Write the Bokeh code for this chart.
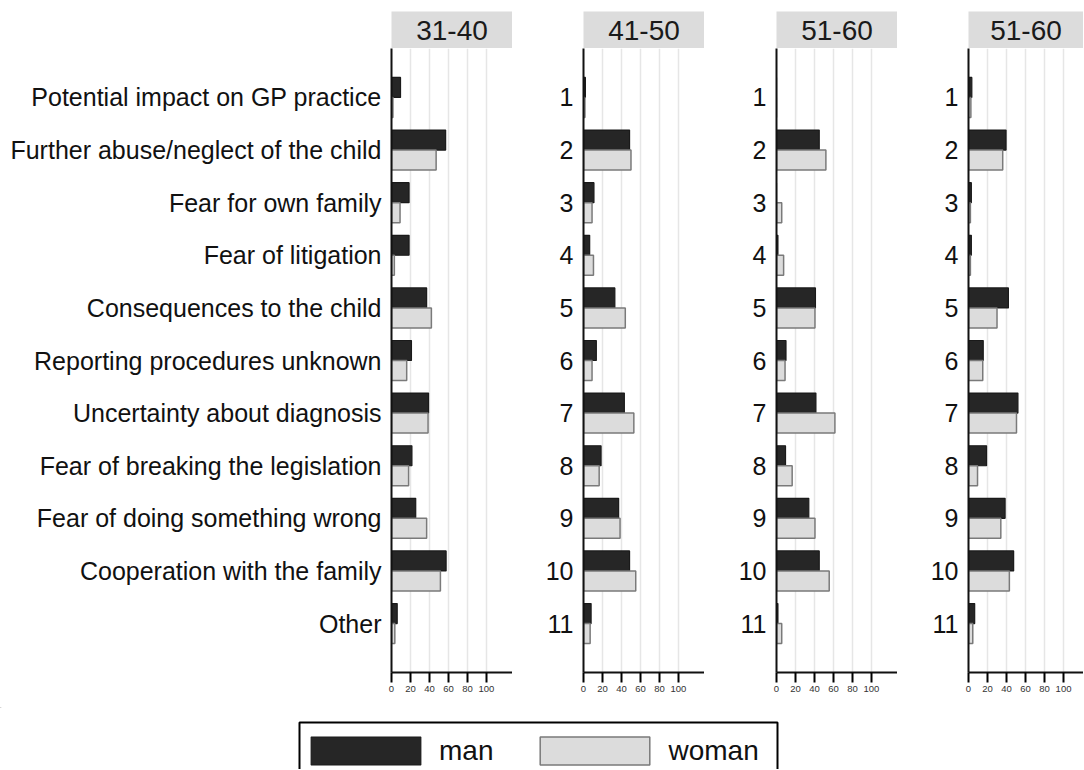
from bokeh.plotting import figure
from bokeh.models import (Range1d, FixedTicker, ColumnDataSource, Legend, LegendItem,
                          BoxAnnotation)
from bokeh.layouts import row, column
from bokeh.embed import file_html
from bokeh.resources import INLINE
from bokeh.core.properties import value
from bokeh.transform import dodge

categories = [
    "Potential impact on GP practice",
    "Further abuse/neglect of the child",
    "Fear for own family",
    "Fear of litigation",
    "Consequences to the child",
    "Reporting procedures unknown",
    "Uncertainty about diagnosis",
    "Fear of breaking the legislation",
    "Fear of doing something wrong",
    "Cooperation with the family",
    "Other",
]
cat_index = list(range(1, 12))
panel_titles = ["31-40", "41-50", "51-60", "51-60"]
x_ticks = [0, 20, 40, 60, 80, 100]

man_31_40 = [9.5, 57, 18.5, 18.5, 37, 21, 39, 21.5, 25.5, 57.5, 6]
woman_31_40 = [1.5, 47, 9, 3, 42, 16, 38.5, 18, 37, 51.5, 3.5]
man_41_50 = [2, 48.5, 11, 6.5, 33, 13.5, 43, 18.5, 37, 48.5, 8]
woman_41_50 = [1.5, 50, 9, 10.5, 44, 9, 53, 16.5, 38.5, 55, 7]
man_51_60 = [0, 45, 0, 1.5, 41, 10, 41.5, 9.5, 34, 45, 1.5]
woman_51_60 = [0, 52, 5.5, 7.5, 40.5, 9, 61.5, 16.5, 40.5, 55.5, 5.5]
man_51_60b = [3.5, 39.5, 3, 3, 42, 15.5, 52, 19, 38.5, 47.5, 6.5]
woman_51_60b = [2.5, 36, 2, 2, 30, 15, 50.5, 9.5, 34, 43, 4.5]

series_names = ["man", "woman"]

FONT = "Liberation Sans"
MAN_FILL, MAN_LINE = "#262626", "#1a1a1a"
WOMAN_FILL, WOMAN_LINE = "#dcdcdc", "#7a7a7a"

panels = [
    (man_31_40, woman_31_40, True, 121, 127.4, 391),
    (man_41_50, woman_41_50, False, 121, 127.4, 71),
    (man_51_60, woman_51_60, False, 121, 127.4, 72),
    (man_51_60b, woman_51_60b, False, 115, 121.0, 71),
]

headers = []
mains = []
for k, (man, woman, names, fw, xmax, bl) in enumerate(panels):
    # header strip
    h = figure(frame_width=fw, frame_height=37, x_range=Range1d(0, 1), y_range=Range1d(0, 1),
               x_axis_location=None, y_axis_location=None, output_backend="svg",
               toolbar_location=None, min_border_left=bl, min_border_right=0,
               min_border_top=11, min_border_bottom=0)
    h.background_fill_color = "#dcdcdc"
    h.outline_line_color = None
    h.grid.visible = False
    h.text(x=[0.5], y=[0.5], text=[panel_titles[k]], text_align="center",
           text_baseline="middle", text_font=value(FONT), text_font_size="28px",
           text_color="#1a1a1a")
    headers.append(h)

    src = ColumnDataSource(dict(cat=cat_index, man=man, woman=woman))
    p = figure(frame_width=fw, frame_height=624, x_range=Range1d(0, xmax),
               y_range=Range1d(11.93, 0.07), output_backend="svg", toolbar_location=None,
               min_border_left=bl, min_border_right=0, min_border_top=0, min_border_bottom=35)
    p.outline_line_color = None
    p.hbar(y=dodge("cat", -0.19), left=0, right="man", height=0.38, source=src,
           fill_color=MAN_FILL, line_color=MAN_LINE, line_width=1.2)
    p.hbar(y=dodge("cat", 0.19), left=0, right="woman", height=0.38, source=src,
           fill_color=WOMAN_FILL, line_color=WOMAN_LINE, line_width=1.5)

    p.yaxis.ticker = FixedTicker(ticks=cat_index)
    if names:
        p.yaxis.major_label_overrides = {i: c for i, c in zip(cat_index, categories)}
    p.yaxis.major_tick_out = 0
    p.yaxis.major_tick_in = 0
    p.yaxis.minor_tick_out = 0
    p.yaxis.minor_tick_in = 0
    p.yaxis.axis_line_width = 2
    p.yaxis.axis_line_color = "#111111"
    p.yaxis.major_label_standoff = 10
    p.yaxis.major_label_text_font = FONT
    p.yaxis.major_label_text_font_size = "25px"
    p.yaxis.major_label_text_color = "#111111"

    p.xaxis.ticker = FixedTicker(ticks=x_ticks)
    p.xaxis.major_tick_out = 10
    p.xaxis.major_tick_in = 0
    p.xaxis.minor_tick_out = 0
    p.xaxis.minor_tick_in = 0
    p.xaxis.major_tick_line_width = 2
    p.xaxis.axis_line_width = 2
    p.xaxis.axis_line_color = "#111111"
    p.xaxis.major_label_standoff = 3
    p.xaxis.major_label_text_font = FONT
    p.xaxis.major_label_text_font_size = "9.5px"
    p.xaxis.major_label_text_color = "#333333"

    p.xgrid.ticker = FixedTicker(ticks=x_ticks)
    p.xgrid.grid_line_color = "#e6e6e6"
    p.xgrid.grid_line_width = 1.5
    p.ygrid.visible = False
    mains.append(p)

# legend strip: pixel-like ranges so the frame box can be placed; key glyph rows are off-range
lg = figure(width=1083, height=62, x_range=Range1d(0, 1083), y_range=Range1d(62, 0),
            x_axis_location=None, y_axis_location=None, output_backend="svg",
            toolbar_location=None, min_border=0)
lg.outline_line_color = None
lg.grid.visible = False
lg.add_layout(BoxAnnotation(left=299, right=777, top=15, bottom=90, fill_color=None,
                            fill_alpha=0, line_color="black", line_width=2, line_alpha=1))
key_src = ColumnDataSource(dict(y=[-100], r=[0]))
r_man = lg.hbar(y="y", left=0, right="r", height=0.5, source=key_src,
                fill_color=MAN_FILL, line_color=MAN_LINE, line_width=1.2)
r_woman = lg.hbar(y="y", left=0, right="r", height=0.5, source=key_src,
                  fill_color=WOMAN_FILL, line_color=WOMAN_LINE, line_width=1.5)
legend = Legend(items=[LegendItem(label=series_names[0], renderers=[r_man]),
                       LegendItem(label=series_names[1], renderers=[r_woman])],
                location=(297, 1), orientation="horizontal", margin=0, padding=0,
                spacing=33, label_standoff=5, glyph_width=137, glyph_height=35,
                label_text_font=FONT, label_text_font_size="28px",
                label_text_color="#111111",
                border_line_color=None, background_fill_alpha=0)
lg.add_layout(legend)

layout = column(row(*headers), row(*mains), lg)
open("out.html", "w").write(file_html(layout, INLINE))
